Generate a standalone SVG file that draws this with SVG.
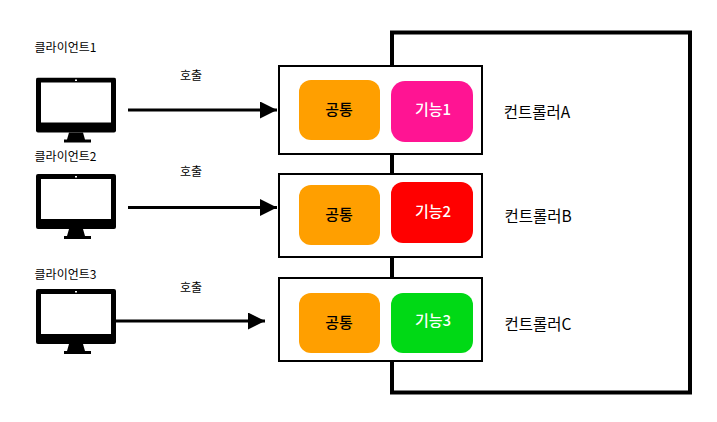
<svg xmlns="http://www.w3.org/2000/svg" width="717" height="422" viewBox="0 0 717 422">
<style>
text{font-family:"Noto Sans CJK KR","Noto Sans",sans-serif;text-anchor:middle;dominant-baseline:central;fill:#000}
.s{font-size:12px}
.c{font-size:15.500px}
.b{font-size:15px;font-weight:500}
.w{fill:#fff}
.box{fill:#fff;stroke:#000;stroke-width:2}
.line{fill:none;stroke:#000;stroke-width:3}
</style>
<defs>
<marker id="arrow" markerUnits="userSpaceOnUse" markerWidth="18" markerHeight="18" refX="17" refY="8.5" orient="auto"><path d="M0 0L17 8.5L0 17Z" fill="#000"/></marker>
<symbol id="monitor" width="80" height="66" viewBox="0 0 80 66">
<rect x="0" y="0" width="80" height="55" rx="2" fill="#000"/>
<rect x="5" y="5" width="70" height="40" fill="#fff"/>
<rect x="39" y="2" width="2" height="1.5" fill="#fff"/>
<path d="M33 55H47L49 62H55V65H28V62H31Z" fill="#000"/>
</symbol>
</defs>
<g id="connectors">
<path class="line" d="M392 66V32.500H690V392.500H392V361" style="stroke-width:4"/>
<path class="line" d="M392 154V174M392 257V278" style="stroke-width:4"/>
<path class="line" d="M128 110H277" marker-end="url(#arrow)"/>
<path class="line" d="M128 207.500H277" marker-end="url(#arrow)"/>
<path class="line" d="M115 321H265" marker-end="url(#arrow)"/>
</g>
<g id="client1"><use href="#monitor" x="36" y="77.500"/><text class="s" x="65.500" y="46">클라이언트1</text></g>
<g id="client2"><use href="#monitor" x="36" y="174"/><text class="s" x="65.500" y="155">클라이언트2</text></g>
<g id="client3"><use href="#monitor" x="36" y="289"/><text class="s" x="65.500" y="273">클라이언트3</text></g>
<g id="call1"><text class="s" x="191" y="74">호출</text></g>
<g id="call2"><text class="s" x="191" y="170">호출</text></g>
<g id="call3"><text class="s" x="191" y="286">호출</text></g>
<g id="controllerA">
<rect class="box" x="279" y="66" width="203" height="88"/>
<rect x="299" y="80" width="81" height="60" rx="12" fill="#ff9f00"/>
<rect x="391" y="81" width="82" height="61" rx="14" fill="#ff1493"/>
<text class="b" x="339" y="108">공통</text><text class="b w" x="433" y="108">기능1</text>
<text class="c" x="537" y="111">컨트롤러A</text>
</g>
<g id="controllerB">
<rect class="box" x="279" y="174" width="203" height="83"/>
<rect x="299" y="185" width="81" height="60" rx="12" fill="#ff9f00"/>
<rect x="391" y="182" width="82" height="61" rx="12" fill="#ff0000"/>
<text class="b" x="339" y="213">공통</text><text class="b w" x="433" y="210">기능2</text>
<text class="c" x="538" y="215">컨트롤러B</text>
</g>
<g id="controllerC">
<rect class="box" x="279" y="278" width="203" height="83"/>
<rect x="299" y="293" width="81" height="60" rx="12" fill="#ff9f00"/>
<rect x="391" y="293" width="82" height="60" rx="12" fill="#00d915"/>
<text class="b" x="339" y="321">공통</text><text class="b w" x="433" y="319">기능3</text>
<text class="c" x="538" y="323">컨트롤러C</text>
</g>
</svg>
